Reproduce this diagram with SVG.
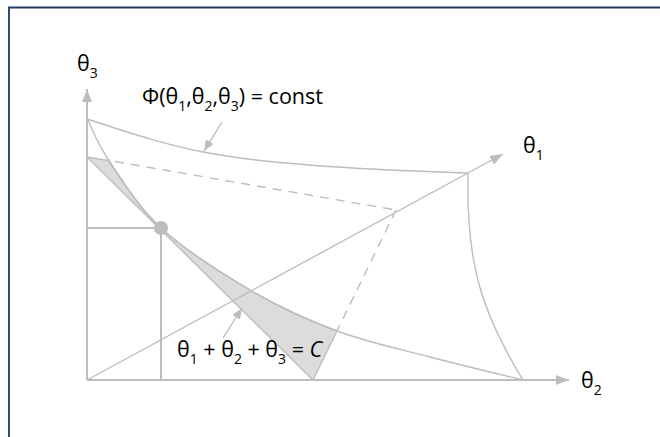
<svg xmlns="http://www.w3.org/2000/svg" width="660" height="437" viewBox="0 0 660 437">
<style>
  .ax { stroke:#bdbdbd; stroke-width:2; fill:none; }
  .ln { stroke:#bdbdbd; stroke-width:1.4; fill:none; }
  .dash { stroke:#bdbdbd; stroke-width:1.4; fill:none; stroke-dasharray:9 7; }
  .lbl { font-family:"Open Sans","DejaVu Sans",sans-serif; font-size:21.5px; fill:#000; }
  .sub { font-size:14px; }
</style>
<defs>
  <marker id="ah" markerUnits="userSpaceOnUse" markerWidth="14" markerHeight="10" refX="13" refY="5" orient="auto">
    <path d="M0,0 L13,5 L0,10 Z" fill="#bdbdbd"/>
  </marker>
  <marker id="ahs" markerUnits="userSpaceOnUse" markerWidth="12" markerHeight="9" refX="11" refY="4.5" orient="auto">
    <path d="M0,0 L11,4.5 L0,9 Z" fill="#bdbdbd"/>
  </marker>
</defs>
<rect width="660" height="437" fill="#ffffff"/>
<path d="M9,437 V7.5 H660" fill="none" stroke="#1f3864" stroke-width="1.8"/>

<g id="plane">
  <path d="M87,157 L108,160.5 C120.3,177.3 137.3,206.2 161,228 C184.7,249.8 220.7,272.8 250,290 C279.3,307.2 307,319.8 337,331 L313,380 Z" fill="#dcdcdc" stroke="#bdbdbd" stroke-width="1.4" stroke-linejoin="round"/>
</g>

<g id="connectors">
  <line class="ax" x1="87" y1="380" x2="87" y2="89" marker-end="url(#ah)"/>
  <line class="ax" x1="87" y1="380" x2="569" y2="380" marker-end="url(#ah)"/>
  <line class="ln" x1="87" y1="380" x2="503" y2="154" marker-end="url(#ah)"/>
  <path class="ax" d="M87,228 H161 V380"/>
  <path class="ln" d="M87,119 C97,122.2 127.7,132.5 147,138 C166.3,143.5 181.7,148 203,152 C224.3,156 247.2,159.2 275,162 C302.8,164.8 337.8,167.2 370,169 C402.2,170.8 451.7,172.3 468,173"/>
  <path class="ln" d="M87,118 C90.5,124.8 95.7,140.7 108,159 C120.3,177.3 137.3,206.2 161,228 C184.7,249.8 220.7,272.8 250,290 C279.3,307.2 307,319.8 337,331 C367,342.2 399,348.8 430,357 C461,365.2 507.5,376.2 523,380"/>
  <path class="ln" d="M468,173 C466,260 480,310 523,380"/>
  <line class="dash" x1="115" y1="161.5" x2="396" y2="210"/>
  <line class="dash" x1="396" y1="210" x2="337" y2="331"/>
  <line class="ln" x1="222" y1="122" x2="204" y2="151" marker-end="url(#ahs)"/>
  <line class="ln" x1="223" y1="338" x2="242" y2="308" marker-end="url(#ahs)"/>
</g>

<g id="point">
  <circle cx="161" cy="228" r="7" fill="#bdbdbd"/>
</g>

<g id="label-theta3">
  <text class="lbl" x="77" y="71">θ<tspan class="sub" dy="7">3</tspan></text>
</g>
<g id="label-theta1">
  <text class="lbl" x="523" y="153">θ<tspan class="sub" dy="7">1</tspan></text>
</g>
<g id="label-theta2">
  <text class="lbl" x="581" y="388">θ<tspan class="sub" dy="7">2</tspan></text>
</g>
<g id="label-phi">
  <text class="lbl" x="142" y="104">Φ(θ<tspan class="sub" dy="7">1</tspan><tspan dy="-7">,θ</tspan><tspan class="sub" dy="7">2</tspan><tspan dy="-7">,θ</tspan><tspan class="sub" dy="7">3</tspan><tspan dy="-7">) = const</tspan></text>
</g>
<g id="label-sum">
  <text class="lbl" x="177" y="357">θ<tspan class="sub" dy="7">1</tspan><tspan dy="-7"> + θ</tspan><tspan class="sub" dy="7">2</tspan><tspan dy="-7"> + θ</tspan><tspan class="sub" dy="7">3</tspan><tspan dy="-7"> = </tspan><tspan font-style="italic">C</tspan></text>
</g>
</svg>
